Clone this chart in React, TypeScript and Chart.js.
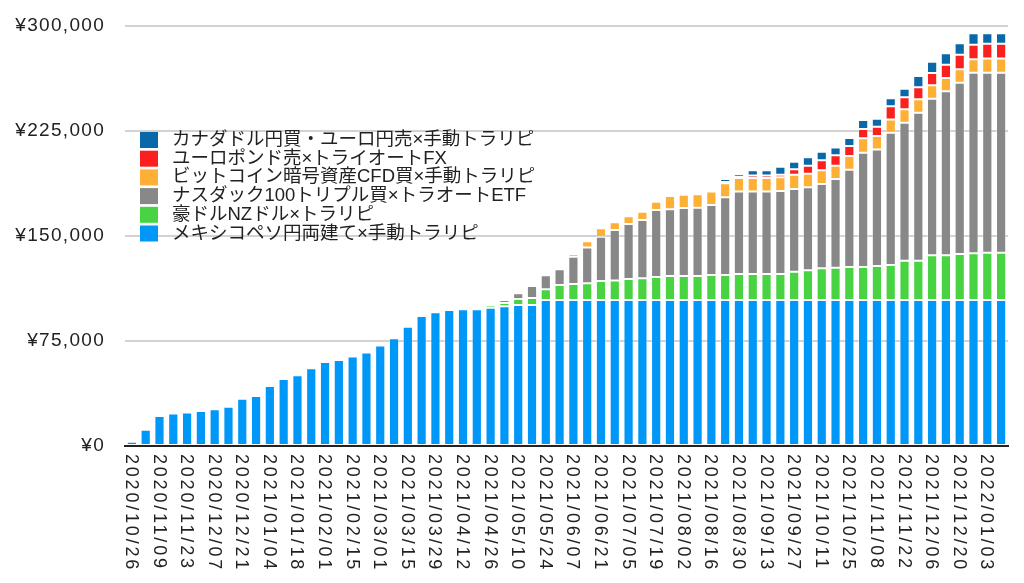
import React, { useEffect, useRef } from "react";
import { Chart, registerables } from "chart.js";

Chart.register(...registerables);

const categories: string[] = [
  "2020/10/26", "2020/11/02", "2020/11/09", "2020/11/16", "2020/11/23", "2020/11/30",
  "2020/12/07", "2020/12/14", "2020/12/21", "2020/12/28",
  "2021/01/04", "2021/01/11", "2021/01/18", "2021/01/25", "2021/02/01", "2021/02/08",
  "2021/02/15", "2021/02/22", "2021/03/01", "2021/03/08", "2021/03/15", "2021/03/22",
  "2021/03/29", "2021/04/05", "2021/04/12", "2021/04/19", "2021/04/26", "2021/05/03",
  "2021/05/10", "2021/05/17", "2021/05/24", "2021/05/31", "2021/06/07", "2021/06/14",
  "2021/06/21", "2021/06/28", "2021/07/05", "2021/07/12", "2021/07/19", "2021/07/26",
  "2021/08/02", "2021/08/09", "2021/08/16", "2021/08/23", "2021/08/30", "2021/09/06",
  "2021/09/13", "2021/09/20", "2021/09/27", "2021/10/04", "2021/10/11", "2021/10/18",
  "2021/10/25", "2021/11/01", "2021/11/08", "2021/11/15", "2021/11/22", "2021/11/29",
  "2021/12/06", "2021/12/13", "2021/12/20", "2021/12/27",
  "2022/01/03", "2022/01/10",
];

// メキシコペソ円両建て×手動トラリピ
const mxnValues: number[] = [
  3000, 11600, 21400, 23300, 24000, 25000, 26200, 28100, 33800, 35700,
  42900, 47900, 50500, 55500, 60000, 61400, 64000, 66700, 71700, 76900,
  85200, 92900, 95500, 97100, 97600, 97600, 98800, 99800, 100700, 100700,
  104300, 104300, 104300, 104300, 104300, 104300, 104300, 104300, 104300, 104300,
  104300, 104300, 104300, 104300, 104300, 104300, 104300, 104300, 104300, 104300,
  104300, 104300, 104300, 104300, 104300, 104300, 104300, 104300, 104300, 104300,
  104300, 104300, 104300, 104300,
];

// 豪ドルNZドル×トラリピ
const audnzdValues: number[] = [
  0, 0, 0, 0, 0, 0, 0, 0, 0, 0,
  0, 0, 0, 0, 0, 0, 0, 0, 0, 0,
  0, 0, 0, 0, 0, 700, 1700, 2300, 4300, 5000,
  7600, 10700, 11400, 11900, 13600, 14000, 15000, 15500, 16400, 17100,
  17100, 17100, 17800, 17800, 18600, 18600, 18600, 18600, 20200, 21200,
  22600, 23100, 23600, 23600, 24300, 25000, 28100, 28100, 31900, 31900,
  32800, 33300, 33800, 33800,
];

// ナスダック100トリプル買×トラオートETF
const nasdaqValues: number[] = [
  0, 0, 0, 0, 0, 0, 0, 0, 0, 0,
  0, 0, 0, 0, 0, 0, 0, 0, 0, 0,
  0, 0, 0, 0, 0, 0, 0, 2200, 4100, 8600,
  10000, 11200, 19500, 25500, 31600, 36000, 39300, 41600, 47900, 47700,
  48600, 48800, 50000, 55500, 58800, 58800, 58800, 59200, 59100, 59300,
  60200, 63300, 69500, 81600, 83100, 94500, 98500, 105700, 111900, 117200,
  122400, 129000, 128500, 128500,
];

// ビットコイン暗号資産CFD買×手動トラリピ
const btcValues: number[] = [
  0, 0, 0, 0, 0, 0, 0, 0, 0, 0,
  0, 0, 0, 0, 0, 0, 0, 0, 0, 0,
  0, 0, 0, 0, 0, 0, 0, 0, 0, 0,
  0, 0, 1900, 4500, 6000, 5500, 5500, 6000, 5900, 9500,
  9500, 9600, 9600, 10000, 9700, 9700, 9700, 9800, 10200, 9700,
  9800, 9500, 9700, 10300, 9700, 9500, 9600, 9500, 9500, 9500,
  9600, 9600, 10100, 10100,
];

// ユーロポンド売×トライオートFX
const eurgbpValues: number[] = [
  0, 0, 0, 0, 0, 0, 0, 0, 0, 0,
  0, 0, 0, 0, 0, 0, 0, 0, 0, 0,
  0, 0, 0, 0, 0, 0, 0, 0, 0, 0,
  0, 0, 0, 0, 0, 0, 0, 0, 0, 0,
  1000, 900, 1200, 1000, 1000, 1900, 1900, 1900, 3800, 5700,
  7200, 7400, 7200, 6600, 6700, 9300, 8600, 8600, 8800, 9500,
  10400, 10400, 10700, 10700,
];

// カナダドル円買・ユーロ円売×手動トラリピ
const cadValues: number[] = [
  0, 0, 0, 0, 0, 0, 0, 0, 0, 0,
  0, 0, 0, 0, 0, 0, 0, 0, 0, 0,
  0, 0, 0, 0, 0, 0, 0, 0, 0, 0,
  0, 0, 0, 0, 0, 0, 0, 0, 0, 0,
  0, 0, 400, 2100, 1900, 3600, 3600, 5700, 5500, 6000,
  6100, 5700, 5700, 6500, 5700, 5800, 6100, 8100, 8100, 8100,
  8100, 8200, 7400, 7400,
];

const seriesNames: string[] = [
  "メキシコペソ円両建て×手動トラリピ",
  "豪ドルNZドル×トラリピ",
  "ナスダック100トリプル買×トラオートETF",
  "ビットコイン暗号資産CFD買×手動トラリピ",
  "ユーロポンド売×トライオートFX",
  "カナダドル円買・ユーロ円売×手動トラリピ",
];

const seriesColors: string[] = [
  "#0098f8",
  "#48d342",
  "#888888",
  "#fdb035",
  "#fb2020",
  "#0968a8",
];

const yTicks: number[] = [0, 75000, 150000, 225000, 300000];

const FONT_LATIN = "'Liberation Sans', 'Noto Sans CJK JP', sans-serif";

export default function App() {
  const canvasRef = useRef<HTMLCanvasElement | null>(null);

  useEffect(() => {
    const canvas = canvasRef.current;
    if (!canvas) return;

    const allValues = [mxnValues, audnzdValues, nasdaqValues, btcValues, eurgbpValues, cadValues];

    const rotatedLabels = {
      id: "rotatedLabels",
      afterDraw(chart: any) {
        const ctx = chart.ctx;
        const xs = chart.scales.x;
        ctx.save();
        ctx.letterSpacing = "2.8px";
        ctx.font = `18px ${FONT_LATIN}`;
        ctx.fillStyle = "#222";
        ctx.textAlign = "left";
        ctx.textBaseline = "middle";
        categories.forEach((lab, i) => {
          if (i % 2 !== 0) return;
          const x = xs.getPixelForValue(i);
          ctx.save();
          ctx.translate(x - 1, chart.chartArea.bottom + 8);
          ctx.rotate(Math.PI / 2);
          ctx.fillText(lab, 0, 0);
          ctx.restore();
        });
        ctx.restore();
      },
    };

    const customLegend = {
      id: "customLegend",
      afterDraw(chart: any) {
        const ctx = chart.ctx;
        const area = chart.chartArea;
        ctx.save();
        ctx.letterSpacing = "0px";
        ctx.font = `18.5px ${FONT_LATIN}`;
        ctx.textAlign = "left";
        ctx.textBaseline = "middle";
        const order = [5, 4, 3, 2, 1, 0];
        order.forEach((si, row) => {
          const cy = area.top + 114 + row * 18.7;
          ctx.fillStyle = seriesColors[si];
          ctx.fillRect(area.left + 15, cy - 8, 18, 16);
          ctx.fillStyle = "#222";
          ctx.fillText(seriesNames[si], area.left + 47, cy);
        });
        ctx.restore();
      },
    };

    const spacing = {
      id: "tickSpacing",
      beforeDraw(chart: any) {
        chart.ctx.letterSpacing = "1.3px";
      },
    };

    const chart = new Chart(canvas, {
      type: "bar",
      data: {
        labels: categories,
        datasets: allValues.map((vals, i) => ({
          label: seriesNames[i],
          data: vals,
          backgroundColor: seriesColors[i],
          borderColor: "rgba(255,255,255,0.35)",
          borderWidth: 1,
          borderSkipped: false,
          barPercentage: 0.74,
          categoryPercentage: 1.0,
        })),
      },
      options: {
        animation: false,
        responsive: true,
        maintainAspectRatio: false,
        layout: { padding: { top: 26, right: 16, left: 0, bottom: 0 } },
        plugins: {
          legend: { display: false },
          tooltip: { enabled: false },
        },
        scales: {
          x: {
            stacked: true,
            grid: { display: false, drawTicks: false },
            border: { display: true, color: "#222", width: 2 },
            ticks: { display: false },
            afterFit: (s: any) => {
              s.height = 137;
              s.paddingLeft = 0;
              s.paddingRight = 0;
            },
          },
          y: {
            stacked: true,
            min: 0,
            max: 300000,
            afterBuildTicks: (s: any) => {
              s.ticks = yTicks.map((v) => ({ value: v }));
            },
            grid: { color: "#d2d2d2", lineWidth: 2, drawTicks: false },
            border: { display: false },
            ticks: {
              padding: 20,
              color: "#222",
              font: { family: FONT_LATIN, size: 19 },
              callback: (v: any) => "¥" + Number(v).toLocaleString("en-US"),
            },
            afterFit: (s: any) => {
              s.width = 125;
              s.paddingTop = 0;
              s.paddingBottom = 0;
            },
          },
        },
      },
      plugins: [spacing, rotatedLabels, customLegend],
    });

    return () => chart.destroy();
  }, []);

  return (
    <div style={{ position: "fixed", left: 0, top: 0, width: 1024, height: 583, background: "#fff" }}>
      <canvas ref={canvasRef} />
    </div>
  );
}
